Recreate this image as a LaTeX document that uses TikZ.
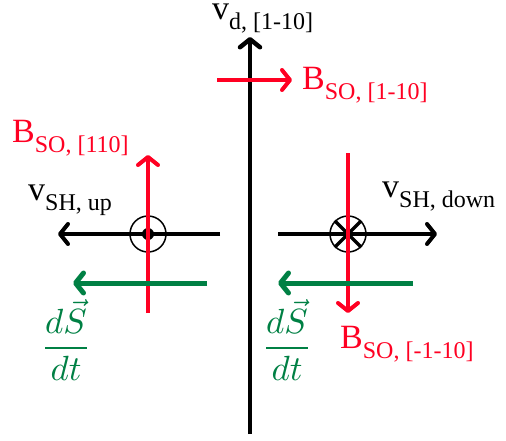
\documentclass[tikz,border=0pt]{standalone}
\usepackage{graphicx}
\usepackage{fontspec}
\setmainfont{Liberation Serif}
\usetikzlibrary{arrows.meta}
\definecolor{bred}{RGB}{255,0,34}
\definecolor{sgreen}{RGB}{0,128,68}
\tikzset{
  tipbarb/.style={-{Straight Barb[length=8pt,width=20pt,round]}},
  blackarrow/.style={tipbarb, line width=4pt, draw=black},
  redarrow/.style={tipbarb, line width=4pt, draw=bred},
  greenarrow/.style={tipbarb, line width=5pt, draw=sgreen},
  lbl/.style={anchor=base west, inner sep=0pt, font=\fontsize{34}{38}\selectfont},
  ring/.style={draw, line width=1.5pt, circle, minimum size=36pt, inner sep=0pt},
  fracl/.style={text=sgreen, inner sep=0pt}
}
\newcommand{\subl}[1]{\raisebox{-10pt}{\fontsize{24}{27}\selectfont #1}}
\newcommand{\dsdt}{\scalebox{3.5}{$\displaystyle\frac{d\vec{S}}{dt}$}}
\begin{document}
\begin{tikzpicture}[x=1pt,y=-1pt]
\useasboundingbox (0,0) rectangle (506,440);
% axis
\coordinate (axB) at (250,434);
\coordinate (axT) at (250,37);
\draw[blackarrow, line width=4.5pt] (axB) -- (axT);
% black horizontal arrows
\coordinate (lS) at (220,234); \coordinate (lE) at (58,234);
\coordinate (rS) at (278,234); \coordinate (rE) at (437,234);
\draw[blackarrow] (lS) -- (lE);
\draw[blackarrow] (rS) -- (rE);
% rings
\node[ring] (up) at (148,234) {};
\fill (up.center) circle (6);
\node[ring] (down) at (348,234) {};
\draw[line width=3.5pt] (down.north east) -- (down.south west);
\draw[line width=3.5pt] (down.north west) -- (down.south east);
% red arrows
\coordinate (tS) at (217,80); \coordinate (tE) at (292,80);
\draw[redarrow] (tS) -- (tE);
\coordinate (lrS) at (148,313); \coordinate (lrE) at (148,155);
\draw[redarrow] (lrS) -- (lrE);
\coordinate (rrS) at (348,153); \coordinate (rrE) at (348,313);
\draw[redarrow] (rrS) -- (rrE);
% green arrows
\coordinate (lgS) at (207,283); \coordinate (lgE) at (73,283);
\draw[greenarrow] (lgS) -- (lgE);
\coordinate (rgS) at (413,283); \coordinate (rgE) at (278,283);
\draw[greenarrow] (rgS) -- (rgE);
% labels
\node[lbl] (vd) at (212,19) {v\subl{d, [1-10]}};
\node[lbl, text=bred] (b1) at (302,89) {B\subl{SO, [1-10]}};
\node[lbl, text=bred] (b2) at (12,142) {B\subl{SO, [110]}};
\node[lbl] (vup) at (28,200) {v\subl{SH, up}};
\node[lbl] (vdown) at (382,197) {v\subl{SH, down}};
\node[lbl, text=bred] (b3) at (340,348) {B\subl{SO, [-1-10]}};
\node[fracl] (f1) at (66,340) {\dsdt};
\node[fracl] (f2) at (287,340) {\dsdt};
\end{tikzpicture}
\end{document}
